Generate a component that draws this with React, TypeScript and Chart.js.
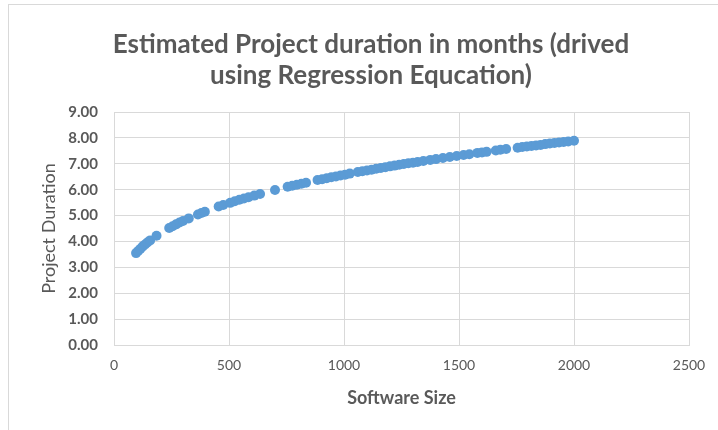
import React, { useEffect, useRef } from "react";
import { Chart, registerables } from "chart.js";

Chart.register(...registerables);

const titleLines = ["Estimated Project duration in months (drived", "using Regression Equcation)"];
const xAxisTitle = "Software Size";
const yAxisTitle = "Project Duration";

const softwareSize = [
  96, 105, 115, 125, 135, 145, 157, 185, 240, 255, 270, 285, 300, 325, 365, 380, 395, 455, 475,
  505, 525, 545, 565, 585, 610, 635, 700, 755, 775, 795, 815, 835, 885, 905, 925, 945, 965, 985,
  1005, 1025, 1060, 1080, 1100, 1120, 1140, 1160, 1180, 1200, 1220, 1240, 1260, 1280, 1300, 1320,
  1345, 1375, 1400, 1430, 1460, 1490, 1520, 1545, 1580, 1600, 1620, 1660, 1680, 1705, 1755, 1775,
  1795, 1815, 1835, 1855, 1875, 1895, 1915, 1935, 1955, 1975, 2000,
];
const projectDuration = [
  3.55, 3.63, 3.72, 3.81, 3.88, 3.96, 4.04, 4.22, 4.52, 4.59, 4.66, 4.73, 4.79, 4.89, 5.04, 5.1, 5.15,
  5.35, 5.41, 5.49, 5.55, 5.61, 5.66, 5.71, 5.77, 5.83, 5.99, 6.11, 6.15, 6.19, 6.23, 6.27, 6.37, 6.4,
  6.44, 6.48, 6.51, 6.55, 6.58, 6.62, 6.68, 6.71, 6.74, 6.77, 6.81, 6.84, 6.87, 6.9, 6.93, 6.96, 6.99,
  7.02, 7.04, 7.07, 7.11, 7.15, 7.18, 7.22, 7.26, 7.3, 7.34, 7.37, 7.42, 7.44, 7.46, 7.51, 7.54, 7.57,
  7.62, 7.65, 7.67, 7.69, 7.71, 7.73, 7.76, 7.78, 7.8, 7.82, 7.84, 7.86, 7.89,
];
const xTicks = [0, 500, 1000, 1500, 2000, 2500];
const yTicks = [0, 1, 2, 3, 4, 5, 6, 7, 8, 9];

const TEXT = "#595959";
const GRID = "#d9d9d9";
const BLUE = "#5B9BD5";
const FONT = "Lato, 'Open Sans', sans-serif";

export default function App() {
  const ref = useRef<HTMLCanvasElement>(null);
  useEffect(() => {
    if (!ref.current) return;
    const titlePlugin = {
      id: "twoLineTitle",
      afterDraw(chart: any) {
        const ctx = chart.ctx;
        ctx.save();
        ctx.font = `bold 26px ${FONT}`;
        ctx.fillStyle = TEXT;
        ctx.textAlign = "center";
        ctx.textBaseline = "alphabetic";
        ctx.fillText(titleLines[0], 371, 53);
        ctx.fillText(titleLines[1], 371, 84);
        ctx.restore();
      },
    };
    const chart = new Chart(ref.current, {
      type: "scatter",
      data: {
        datasets: [
          {
            data: softwareSize.map((x, i) => ({ x, y: projectDuration[i] })),
            backgroundColor: BLUE,
            borderColor: BLUE,
            borderWidth: 0,
            pointRadius: 5,
          },
        ],
      },
      options: {
        responsive: false,
        animation: false,
        layout: { padding: { top: 112, left: 38, right: 29, bottom: 20 } },
        plugins: { legend: { display: false }, title: { display: false }, tooltip: { enabled: false } },
        scales: {
          x: {
            type: "linear",
            min: xTicks[0],
            max: xTicks[xTicks.length - 1],
            afterFit: (s: any) => { s.height = 65; },
            afterBuildTicks: (s: any) => { s.ticks = xTicks.map((v) => ({ value: v })); },
            ticks: { color: TEXT, font: { family: FONT, size: 14 }, padding: 12, callback: (v: any) => String(v) },
            grid: { color: GRID, drawTicks: false },
            border: { color: GRID },
            title: { display: true, text: xAxisTitle, color: TEXT, font: { family: FONT, size: 18, weight: "bold" }, padding: { top: 0, bottom: 1 } },
          },
          y: {
            type: "linear",
            min: yTicks[0],
            max: yTicks[yTicks.length - 1],
            afterFit: (s: any) => { s.width = 76; },
            afterBuildTicks: (s: any) => { s.ticks = yTicks.map((v) => ({ value: v })); },
            ticks: { color: TEXT, font: { family: FONT, size: 15, weight: "bold" }, padding: 16, callback: (v: any) => Number(v).toFixed(2) },
            grid: { color: GRID, drawTicks: false },
            border: { color: GRID },
            title: { display: true, text: yAxisTitle, color: TEXT, font: { family: FONT, size: 18 }, padding: { top: 0, bottom: 0 } },
          },
        },
      },
      plugins: [titlePlugin],
    } as any);
    return () => chart.destroy();
  }, []);
  return (
    <div style={{ position: "fixed", left: 0, top: 0, width: 718, height: 430, overflow: "hidden", background: "#fff" }}>
      <div style={{ position: "absolute", left: 8, top: 4, width: 800, height: 500, border: `1px solid ${GRID}` }} />
      <canvas ref={ref} width={718} height={430} style={{ position: "absolute", left: 0, top: 0 }} />
    </div>
  );
}
